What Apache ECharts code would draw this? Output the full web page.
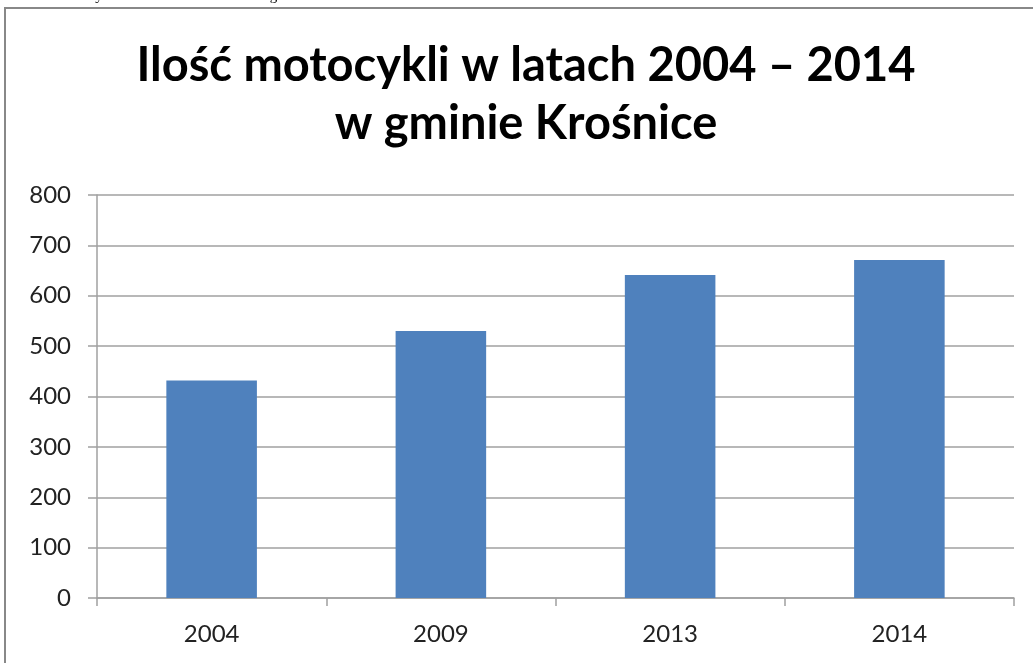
<!DOCTYPE html>
<html>
<head>
<meta charset="utf-8">
<script src="https://cdn.jsdelivr.net/npm/echarts@6/dist/echarts.min.js"></script>
<style>
html,body{margin:0;padding:0;background:#fff;}
#chart{width:1033px;height:663px;}
</style>
</head>
<body>
<div id="chart"></div>
<script>
var categories = ['2004', '2009', '2013', '2014'];
var values = [432, 530, 641, 671];
var yTicks = { min: 0, max: 800, interval: 100 };
var titleLines = ['Ilość motocykli w latach 2004 – 2014', 'w gminie Krośnice'];
var caption = 'Rys. 30. Ilość motocykli w latach 2004 – 2014 w gminie Krośnice.';

var gray = '#a0a0a0';
var chart = echarts.init(document.getElementById('chart'), null, { renderer: 'canvas' });
chart.setOption({
  backgroundColor: '#fff',
  animation: false,
  title: {
    text: titleLines.join('\n'),
    left: 526,
    top: 37,
    padding: 0,
    textAlign: 'center',
    textStyle: {
      fontFamily: 'Lato',
      fontWeight: 'bold',
      fontSize: 47,
      lineHeight: 58,
      color: '#000'
    }
  },
  graphic: [
    {
      type: 'rect',
      shape: { x: 5, y: 8, width: 1100, height: 700 },
      style: { fill: 'none', stroke: '#888', lineWidth: 2 }
    },
    {
      type: 'text',
      x: 373, y: -4,
      style: {
        text: caption,
        fontFamily: 'Liberation Serif',
        fontSize: 15,
        fill: '#000',
        align: 'right',
        verticalAlign: 'middle'
      }
    }
  ],
  grid: { left: 97, right: 19, top: 195, bottom: 65, containLabel: false },
  xAxis: {
    type: 'category',
    data: categories,
    axisLine: { lineStyle: { color: gray, width: 1.5 } },
    axisTick: { show: true, length: 8, alignWithLabel: false, lineStyle: { color: gray, width: 1.5 } },
    axisLabel: { margin: 24, fontFamily: 'Lato', fontSize: 24, color: '#222' },
    splitLine: { show: false }
  },
  yAxis: {
    type: 'value',
    min: yTicks.min,
    max: yTicks.max,
    interval: yTicks.interval,
    axisLine: { show: true, lineStyle: { color: gray, width: 1.5 } },
    axisTick: { show: true, length: 9, lineStyle: { color: gray, width: 1.5 } },
    axisLabel: { margin: 26, fontFamily: 'Lato', fontSize: 24, color: '#222' },
    splitLine: { show: true, lineStyle: { color: gray, width: 1.5 } }
  },
  series: [{
    type: 'bar',
    data: values,
    barWidth: '39.5%',
    itemStyle: { color: '#4f81bd' }
  }]
});
</script>
</body>
</html>
